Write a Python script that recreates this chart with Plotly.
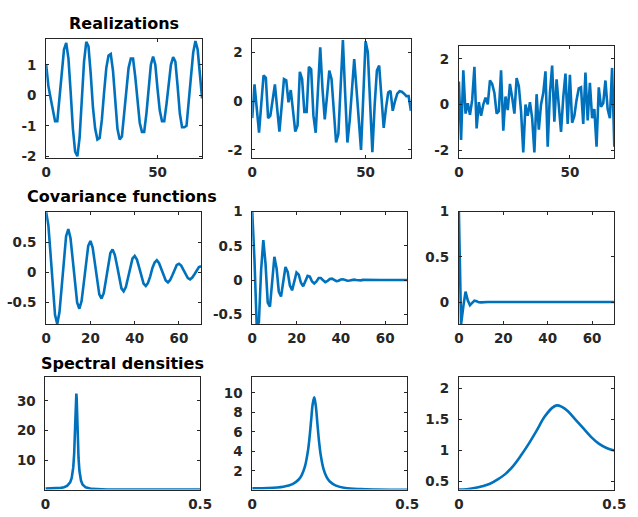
import plotly.graph_objects as go

W, H = 638, 517

# ---------------- data ----------------
lags = list(range(71))

realization_1 = [1.0, 0.3, -0.1, -0.5, -0.85, -0.85, -0.1, 0.8, 1.5, 1.72,
                 1.2, 0.1, -1.1, -1.85, -2.0, -1.4, -0.2, 1.1, 1.75, 1.6,
                 0.7, -0.4, -1.1, -1.45, -1.4, -0.8, 0.1, 0.9, 1.3, 1.35,
                 0.8, -0.2, -1.1, -1.45, -1.35, -0.6, 0.3, 0.9, 1.2, 1.2,
                 0.6, -0.3, -0.9, -1.2, -1.2, -0.6, 0.3, 1.0, 1.27, 1.0,
                 0.2, -0.5, -0.85, -0.85, -0.3, 0.4, 1.0, 1.25, 1.1, 0.3,
                 -0.6, -1.05, -1.05, -1.0, -0.3, 0.6, 1.4, 1.78, 1.5, 0.6,
                 -0.1]

realization_2 = [-0.7, 0.68, -0.3, -1.3, -0.1, 1.05, 0.95, -0.7, -0.6, 0.05,
                 0.68, -0.3, -1.25, -0.2, 0.9, 0.85, -0.05, 0.45, -0.4, -1.25,
                 -1.0, 1.2, 0.9, -0.45, -0.45, 1.4, 1.3, -0.6, -1.3, 0.4,
                 2.2, 0.5, -0.75, 0.2, 1.25, 0.9, -0.5, -1.7, -1.35, 0.8,
                 2.5, 0.3, -1.7, -0.8, 0.6, 1.72, 0.5, -1.0, -2.0, 0.2,
                 2.45, 2.0, -0.3, -2.1, -0.2, 1.25, 1.45, 0.0, -1.1, -0.3,
                 0.35, 0.42, -0.4, 0.0, 0.3, 0.4, 0.38, 0.3, 0.2, 0.2,
                 -0.4]

realization_3 = [1.0, -1.55, 1.5, -0.4, 0.05, -0.45, 0.2, 1.65, -1.05, 0.1,
                 -0.5, 0.0, 0.3, 0.0, 1.05, 0.9, 0.5, -0.4, -0.3, 1.5,
                 -1.15, 0.35, -0.25, 0.9, 0.3, -0.4, 1.15, 0.8, -0.3, -2.1,
                 0.0, -0.5, 0.1, -0.6, -2.1, 0.45, -1.1, 0.0, 0.5, 1.45,
                 -1.85, 0.5, 1.7, -0.75, 1.1, 0.0, -1.2, 0.3, 1.35, -0.85,
                 1.3, -0.8, -0.5, 0.2, 0.7, 0.75, -0.85, 1.4, -0.7, 0.95,
                 -0.6, -0.2, -1.85, 0.75, -0.1, 0.05, 1.05, -0.2, -0.6, 1.6,
                 -1.85]

covariance_1 = [1.0, 0.78, 0.29, -0.28, -0.71, -0.865, -0.67, -0.25, 0.24, 0.60,
                0.72, 0.565, 0.21, -0.20, -0.51, -0.61, -0.48, -0.18, 0.17, 0.44,
                0.52, 0.41, 0.15, -0.15, -0.37, -0.44, -0.35, -0.13, 0.12, 0.32,
                0.38, 0.29, 0.11, -0.11, -0.27, -0.32, -0.25, -0.09, 0.09, 0.23,
                0.27, 0.21, 0.08, -0.08, -0.19, -0.23, -0.18, -0.07, 0.07, 0.16,
                0.20, 0.15, 0.06, -0.06, -0.14, -0.17, -0.13, -0.05, 0.05, 0.12,
                0.14, 0.11, 0.04, -0.04, -0.10, -0.12, -0.09, -0.035, 0.035, 0.085,
                0.10]

covariance_2 = [1.0, 0.30, -0.645, -0.62, 0.14, 0.585, 0.24, -0.33, -0.39, 0.04,
                0.34, 0.17, -0.17, -0.24, -0.01, 0.19, 0.12, -0.08, -0.15, -0.02,
                0.11, 0.08, -0.04, -0.09, -0.02, 0.06, 0.05, -0.02, -0.05, -0.02,
                0.03, 0.03, -0.005, -0.03, -0.014, 0.016, 0.02, 0.0, -0.017, -0.01,
                0.009, 0.011, 0.002, -0.009, -0.006, 0.004, 0.006, 0.001, -0.005, -0.004,
                0.002, 0.003, 0.001, -0.003, -0.002, 0.001, 0.002, 0.0, 0.0, 0.0,
                0.0, 0.0, 0.0, 0.0, 0.0, 0.0, 0.0, 0.0, 0.0, 0.0,
                0.0]

covariance_3 = [1.0, -0.245, -0.05, 0.115, 0.02, -0.035, -0.01, 0.015, 0.008, -0.003,
                -0.004, 0.0, 0.0, 0.0, 0.0, 0.0, 0.0, 0.0, 0.0, 0.0,
                0.0, 0.0, 0.0, 0.0, 0.0, 0.0, 0.0, 0.0, 0.0, 0.0,
                0.0, 0.0, 0.0, 0.0, 0.0, 0.0, 0.0, 0.0, 0.0, 0.0,
                0.0, 0.0, 0.0, 0.0, 0.0, 0.0, 0.0, 0.0, 0.0, 0.0,
                0.0, 0.0, 0.0, 0.0, 0.0, 0.0, 0.0, 0.0, 0.0, 0.0,
                0.0, 0.0, 0.0, 0.0, 0.0, 0.0, 0.0, 0.0, 0.0, 0.0,
                0.0]

freq_1 = [0, 0.02, 0.04, 0.05, 0.06, 0.07, 0.08, 0.085, 0.09, 0.093, 0.096, 0.098,
          0.099, 0.1, 0.101, 0.102, 0.104, 0.107, 0.11, 0.115, 0.12, 0.13, 0.15,
          0.17, 0.2, 0.25, 0.3, 0.4, 0.5]
spectrum_1 = [0.32, 0.35, 0.46, 0.58, 0.80, 1.26, 2.46, 3.97, 7.5, 12.2, 21.1, 28.8,
              31.6, 32.5, 31.05, 27.8, 19.7, 10.8, 6.3, 3.06, 1.74, 0.75, 0.24,
              0.11, 0.047, 0.018, 0.0095, 0.0045, 0.0036]

freq_2 = [0, 0.05, 0.1, 0.13, 0.15, 0.16, 0.17, 0.18, 0.185, 0.19, 0.195, 0.2,
          0.205, 0.21, 0.215, 0.22, 0.23, 0.24, 0.25, 0.27, 0.3, 0.35, 0.4, 0.45, 0.5]
spectrum_2 = [0.2, 0.23, 0.37, 0.64, 1.11, 1.59, 2.45, 4.13, 5.49, 7.2, 8.86, 9.55,
              8.68, 6.91, 5.16, 3.81, 2.17, 1.35, 0.90, 0.48, 0.24, 0.12, 0.076, 0.06, 0.056]

freq_3 = [0, 0.025, 0.05, 0.075, 0.1, 0.125, 0.15, 0.175, 0.2, 0.225, 0.25, 0.275,
          0.3, 0.315, 0.33, 0.35, 0.375, 0.4, 0.425, 0.45, 0.475, 0.5]
spectrum_3 = [0.365, 0.37, 0.39, 0.42, 0.46, 0.53, 0.62, 0.75, 0.92, 1.11, 1.32, 1.54,
              1.69, 1.73, 1.71, 1.64, 1.50, 1.36, 1.22, 1.11, 1.04, 1.0]

titles = ["Realizations", "Covariance functions", "Spectral densities"]

# ---------------- styling ----------------
LINE = "#0072BD"
AX = "#262626"
FONT = "DejaVu Sans"

def xd(a, b):
    return [a / W, b / W]

def yd(top, bottom):
    return [1 - bottom / H, 1 - top / H]

panels = [
    (lags, realization_1, "linear", (42.3, 202.5), (31.7, 154.3), [0, 70], [-2.06, 1.85],
     [0, 50], [-2, -1, 0, 1]),
    (lags, realization_2, "linear", (254, 417), (31.7, 154.3), [0, 70], [-2.34, 2.55],
     [0, 50], [-2, 0, 2]),
    (lags, realization_3, "linear", (466.3, 626), (39.3, 154.3), [0, 70], [-2.35, 2.55],
     [0, 50], [-2, 0, 2]),
    (lags, covariance_1, "linear", (42.3, 201.5), (209.3, 325), [0, 70], [-0.868, 1.01],
     [0, 20, 40, 60], [-0.5, 0, 0.5]),
    (lags, covariance_2, "linear", (254, 413.3), (209.3, 325), [0, 70], [-0.645, 1.0],
     [0, 20, 40, 60], [-0.5, 0, 0.5, 1]),
    (lags, covariance_3, "linear", (466.3, 626), (209.3, 325), [0, 70], [-0.245, 1.0],
     [0, 20, 40, 60], [0, 0.5, 1]),
    (freq_1, spectrum_1, "linear", (41.5, 200.5), (379.3, 495), [0, 0.5], [0.0, 38.1],
     [0, 0.5], [10, 20, 30]),
    (freq_2, spectrum_2, "spline", (254, 413.3), (379.3, 495), [0, 0.5], [0.07, 11.64],
     [0, 0.5], [2, 4, 6, 8, 10]),
    (freq_3, spectrum_3, "spline", (466.3, 626), (379.3, 495), [0, 0.5], [0.365, 2.19],
     [0, 0.5], [0.5, 1, 1.5, 2]),
]

def fmt(v):
    return "%g" % v

fig = go.Figure()
layout = dict(
    width=W, height=H, autosize=False,
    margin=dict(l=0, r=0, t=0, b=0),
    paper_bgcolor="white", plot_bgcolor="white",
    showlegend=False,
)

for i, (x, y, shape, xdp, ydp, xr, yr, xt, yt) in enumerate(panels, start=1):
    sfx = "" if i == 1 else str(i)
    fig.add_trace(go.Scatter(
        x=x, y=y, mode="lines",
        line=dict(color=LINE, width=2.6, shape=shape),
        xaxis="x" + sfx, yaxis="y" + sfx, hoverinfo="skip",
    ))
    common = dict(
        showline=True, linecolor=AX, linewidth=1, mirror="ticks",
        ticks="inside", ticklen=3, tickwidth=1, tickcolor=AX,
        showgrid=False, zeroline=False,
        tickfont=dict(family=FONT, size=13.5, color=AX, weight="bold"),
    )
    layout["xaxis" + sfx] = dict(
        common, domain=xd(*xdp), range=xr, anchor="y" + sfx,
        tickmode="array", tickvals=xt, ticktext=[fmt(v) for v in xt],
        ticklabelstandoff=2,
    )
    layout["yaxis" + sfx] = dict(
        common, domain=yd(*ydp), range=yr, anchor="x" + sfx,
        tickmode="array", tickvals=yt, ticktext=[fmt(v) for v in yt],
        ticklabelstandoff=6,
    )

title_pos = [(122, 15.8), (120, 194.0), (121, 365.0)]
annotations = []
for txt, (cx, cy) in zip(titles, title_pos):
    annotations.append(dict(
        text=txt, x=cx / W, y=1 - cy / H, xref="paper", yref="paper",
        xanchor="center", yanchor="middle", showarrow=False,
        font=dict(family=FONT, size=16, color="black", weight="bold"),
    ))
layout["annotations"] = annotations

fig.update_layout(**layout)
fig.write_html("out.html", config={"displayModeBar": False},
               post_script="document.body.style.margin='0';")
